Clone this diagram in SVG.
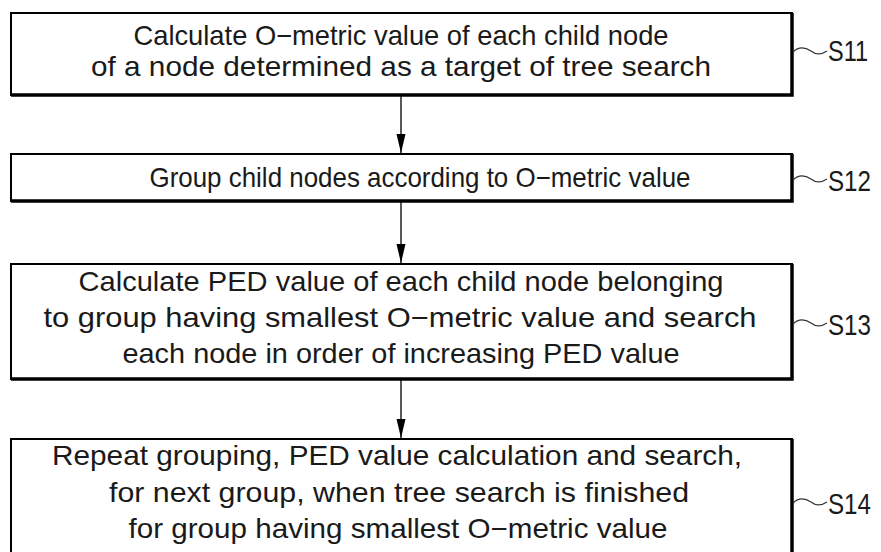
<svg xmlns="http://www.w3.org/2000/svg" width="881" height="552" viewBox="0 0 881 552">
  <defs>
    <marker id="head" markerWidth="20" markerHeight="10" refX="19" refY="5" orient="auto" markerUnits="userSpaceOnUse" viewBox="0 0 20 10">
      <path d="M0,0.5 L19,5 L0,9.5 Z" fill="#000"/>
    </marker>
  </defs>
  <style>
    .box { fill: #fff; stroke: #000; stroke-width: 2; }
    .edge { fill: none; stroke: #000; stroke-width: 3.5; }
    .txt { font-family: "Liberation Sans", Arial, sans-serif; font-size: 28px; fill: #1a1a1a; text-anchor: middle; }
    .lbl { font-family: "Liberation Sans", Arial, sans-serif; font-size: 30px; fill: #1a1a1a; }
    .wave { fill: none; stroke: #333; stroke-width: 1.2; }
    .conn { stroke: #000; stroke-width: 1.3; fill: none; }
  </style>
  <rect width="881" height="552" fill="#fff"/>

  <g id="connectors">
    <line class="conn" x1="401" y1="96" x2="401" y2="153" marker-end="url(#head)"/>
    <line class="conn" x1="401" y1="202" x2="401" y2="263" marker-end="url(#head)"/>
    <line class="conn" x1="401" y1="380" x2="401" y2="438" marker-end="url(#head)"/>
  </g>

  <g id="s11">
    <rect class="box" x="11" y="13" width="781" height="82"/>
    <polyline class="edge" points="792,13 792,95 11,95"/>
    <text class="txt" x="401" y="45" textLength="535" lengthAdjust="spacingAndGlyphs">Calculate O−metric value of each child node</text>
    <text class="txt" x="401" y="76" textLength="620" lengthAdjust="spacingAndGlyphs">of a node determined as a target of tree search</text>
    <path class="wave" d="M793,52 C799,46 805,47 811,51 C816,55 821,55 827,51"/>
    <text class="lbl" x="828" y="61" textLength="40" lengthAdjust="spacingAndGlyphs">S11</text>
  </g>

  <g id="s12">
    <rect class="box" x="11" y="154" width="781" height="47"/>
    <polyline class="edge" points="792,154 792,201 11,201"/>
    <text class="txt" x="420" y="187" textLength="541" lengthAdjust="spacingAndGlyphs">Group child nodes according to O−metric value</text>
    <path class="wave" d="M793,180 C799,174 805,175 811,179 C816,183 821,183 827,179"/>
    <text class="lbl" x="828" y="191" textLength="43" lengthAdjust="spacingAndGlyphs">S12</text>
  </g>

  <g id="s13">
    <rect class="box" x="11" y="264" width="781" height="115"/>
    <polyline class="edge" points="792,264 792,379 11,379"/>
    <text class="txt" x="401" y="291" textLength="645" lengthAdjust="spacingAndGlyphs">Calculate PED value of each child node belonging</text>
    <text class="txt" x="400" y="327" textLength="713" lengthAdjust="spacingAndGlyphs">to group having smallest O−metric value and search</text>
    <text class="txt" x="401" y="363" textLength="557" lengthAdjust="spacingAndGlyphs">each node in order of increasing PED value</text>
    <path class="wave" d="M793,324 C799,318 805,319 811,323 C816,327 821,327 827,323"/>
    <text class="lbl" x="828" y="335" textLength="43" lengthAdjust="spacingAndGlyphs">S13</text>
  </g>

  <g id="s14">
    <rect class="box" x="11" y="439" width="781" height="130"/>
    <polyline class="edge" points="792,439 792,569"/>
    <text class="txt" x="397" y="465" textLength="690" lengthAdjust="spacingAndGlyphs">Repeat grouping, PED value calculation and search,</text>
    <text class="txt" x="399" y="502" textLength="580" lengthAdjust="spacingAndGlyphs">for next group, when tree search is finished</text>
    <text class="txt" x="398" y="538" textLength="539" lengthAdjust="spacingAndGlyphs">for group having smallest O−metric value</text>
    <path class="wave" d="M793,503 C799,497 805,498 811,502 C816,506 821,506 827,502"/>
    <text class="lbl" x="828" y="514" textLength="43" lengthAdjust="spacingAndGlyphs">S14</text>
  </g>
</svg>
